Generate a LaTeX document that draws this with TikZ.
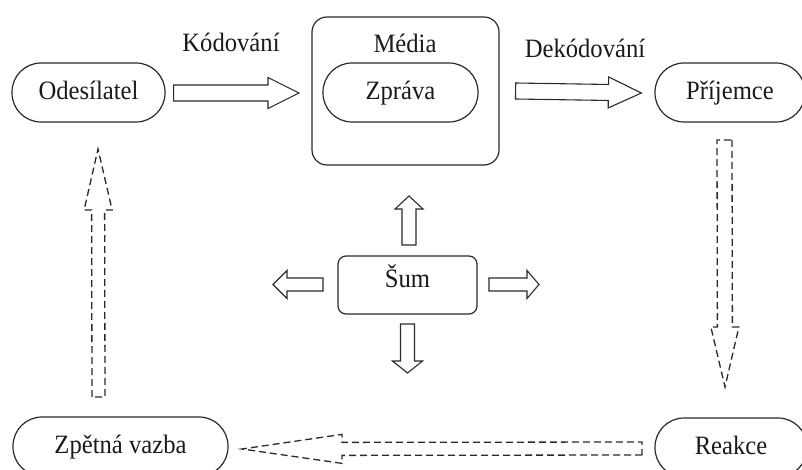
\documentclass[tikz,border=0pt]{standalone}
\usepackage{fontspec}
\setmainfont{Liberation Serif}[FakeStretch=0.93]
\usetikzlibrary{calc}
\definecolor{ink}{HTML}{1A1A1A}
\definecolor{edge}{HTML}{2A2A2A}
\newcommand{\blkarrow}[6]{% #1 style, #2 from, #3 to, #4 shaft half, #5 head half, #6 head length
  \path ($(#3)!#6!(#2)$) coordinate (hb);
  \draw[#1] ($(#2)!#4!90:(#3)$) -- ($(hb)!#4!90:(#3)$) -- ($(hb)!#5!90:(#3)$) -- (#3)
    -- ($(hb)!#5!-90:(#3)$) -- ($(hb)!#4!-90:(#3)$) -- ($(#2)!#4!-90:(#3)$) -- cycle;
}
\tikzset{
  txt/.style={font=\fontsize{26.5pt}{30pt}\selectfont, text=ink},
  stadium/.style={txt, draw=edge, line width=1.2pt, rectangle, rounded corners=29pt,
    minimum height=59pt, inner sep=0pt, text height=17pt, text depth=3pt},
  bigbox/.style={draw=edge, line width=1.2pt, rectangle, rounded corners=15pt,
    minimum width=187pt, minimum height=148pt, inner sep=0pt},
  noisebox/.style={txt, draw=edge, line width=1.2pt, rectangle, rounded corners=8pt,
    minimum width=139pt, minimum height=58pt, inner sep=0pt, text height=10pt, text depth=6pt},
  solidarrow/.style={draw=edge, line width=1.1pt, fill=white, line join=miter},
  dasharrow/.style={draw=edge, line width=1.3pt, dash pattern=on 7pt off 4pt, line join=miter},
}
\begin{document}
\begin{tikzpicture}[x=1pt,y=-1pt]
\clip (0,0) rectangle (802,470);
\fill[white] (0,0) rectangle (802,470);

% nodes
\node[stadium, minimum width=153pt] (odes) at (88.5,92.5) {Odesílatel};
\node[bigbox] (media) at (405.5,91) {};
\node[txt, anchor=base] (medialbl) at (405,53) {Média};
\node[stadium, minimum width=155pt] (zprava) at (400.5,92.5) {Zpráva};
\node[stadium, minimum width=150pt] (prij) at (730,92.5) {Příjemce};
\node[stadium, minimum width=152pt] (reakce) at (731,447.5) {Reakce};
\node[stadium, minimum width=215pt] (zpet) at (120.5,446.5) {Zpětná vazba};
\node[noisebox] (sum) at (407.5,285) {Šum};

\node[txt, anchor=base] (kodlbl) at (231,52) {Kódování};
\node[txt, anchor=base] (deklbl) at (585,58) {Dekódování};

% connector end points
\coordinate (k1) at ($(odes.east)+(8,0.5)$);
\coordinate (k2) at (299,93);
\coordinate (d1) at ($(media.east)+(16,0)$);
\coordinate (d2) at ($(prij.west)+(-13,0.5)$);
\coordinate (r1) at (724.5,140);
\coordinate (r2) at (725,387);
\coordinate (b1) at (642,448.5);
\coordinate (b2) at (242,449);
\coordinate (l1) at (98.5,397);
\coordinate (l2) at (98,149);
\coordinate (su1) at (409,245);
\coordinate (su2) at (409,196);
\coordinate (sd1) at (407.5,324);
\coordinate (sd2) at (407.5,373);
\coordinate (sl1) at (323,284.5);
\coordinate (sl2) at (273,284.5);
\coordinate (sr1) at (489,284.5);
\coordinate (sr2) at (539,284.5);

% big arrows
\blkarrow{solidarrow}{k1}{k2}{8pt}{15.5pt}{31pt}
\blkarrow{solidarrow}{d1}{d2}{8pt}{15.5pt}{33pt}
% dashed arrows
\blkarrow{dasharrow}{r1}{r2}{7.5pt}{14pt}{60pt}
\blkarrow{dasharrow}{b1}{b2}{6.5pt}{14.5pt}{100pt}
\blkarrow{dasharrow}{l1}{l2}{6.5pt}{14pt}{61pt}
% noise arrows
\blkarrow{solidarrow}{su1}{su2}{7pt}{14pt}{13pt}
\blkarrow{solidarrow}{sd1}{sd2}{7pt}{15pt}{12pt}
\blkarrow{solidarrow}{sl1}{sl2}{6.5pt}{14pt}{14pt}
\blkarrow{solidarrow}{sr1}{sr2}{6.5pt}{14pt}{12pt}
\end{tikzpicture}
\end{document}
